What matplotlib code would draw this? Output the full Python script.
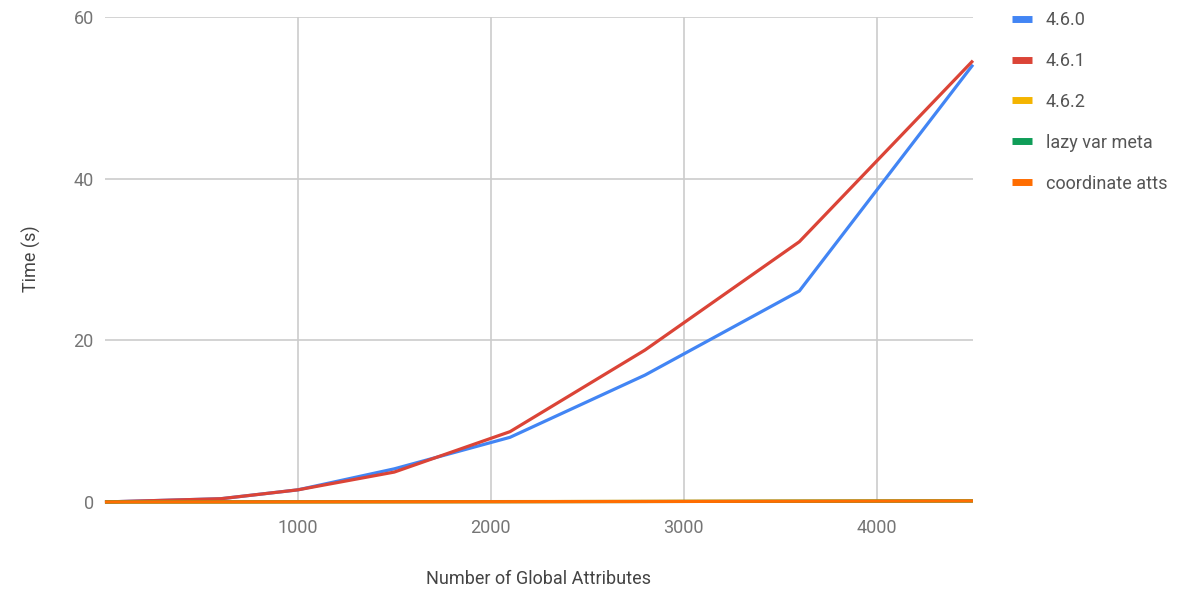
import matplotlib.pyplot as plt

# Number of global attributes vs. time
n_attrs = [0, 600, 1000, 1500, 2100, 2800, 3600, 4500]
v460 = [0, 0.4, 1.5, 4.1, 8.0, 15.7, 26.1, 54.1]
v461 = [0, 0.4, 1.5, 3.7, 8.7, 18.8, 32.2, 54.6]
v462 = [0, 0.01, 0.02, 0.03, 0.05, 0.07, 0.1, 0.14]
lazy_var_meta = [0, 0.01, 0.02, 0.03, 0.04, 0.06, 0.09, 0.12]
coord_atts = [0, 0.01, 0.02, 0.03, 0.04, 0.06, 0.09, 0.13]

labels = ['4.6.0', '4.6.1', '4.6.2', 'lazy var meta', 'coordinate atts']
colors = ['#4285F4', '#DB4437', '#F4B400', '#0F9D58', '#FF6D01']
series = [v460, v461, v462, lazy_var_meta, coord_atts]

plt.rcParams['font.family'] = ['Roboto', 'DejaVu Sans']
grey = '#757575'

fig = plt.figure(figsize=(11.9, 5.93), dpi=100)
ax = fig.add_axes([0.0882, 0.1535, 0.8176 - 0.0882, 0.9713 - 0.1535])

handles = []
for ys, c, lab in zip(series, colors, labels):
    h, = ax.plot(n_attrs, ys, color=c, lw=2.3, label=lab, clip_on=False,
                 solid_joinstyle='round', solid_capstyle='butt')
    handles.append(h)

ax.set_xlim(0, 4500)
ax.set_ylim(0, 60)
ax.set_xticks([1000, 2000, 3000, 4000])
ax.set_yticks([0, 20, 40, 60])
ax.grid(True, color='#cccccc', lw=1.2)
ax.set_axisbelow(True)
for s in ax.spines.values():
    s.set_visible(False)
ax.tick_params(length=0, labelsize=13, labelcolor=grey)
ax.tick_params(axis='x', pad=12)
ax.tick_params(axis='y', pad=8)

fig.text(0.4525, 0.008, 'Number of Global Attributes', ha='center', va='bottom',
         fontsize=13, color='#444444')
fig.text(0.026, 0.563, 'Time (s)', rotation=90, ha='center', va='center',
         fontsize=13, color='#444444')

leg = fig.legend(handles=handles, loc='upper left', bbox_to_anchor=(0.837, 1.009),
                 frameon=False, fontsize=13, handlelength=1.1, handletextpad=0.75,
                 labelspacing=1.27, labelcolor='#555555')
for lh in leg.get_lines():
    lh.set_linewidth(5)

fig.savefig('out.png', dpi=100, facecolor='white')
